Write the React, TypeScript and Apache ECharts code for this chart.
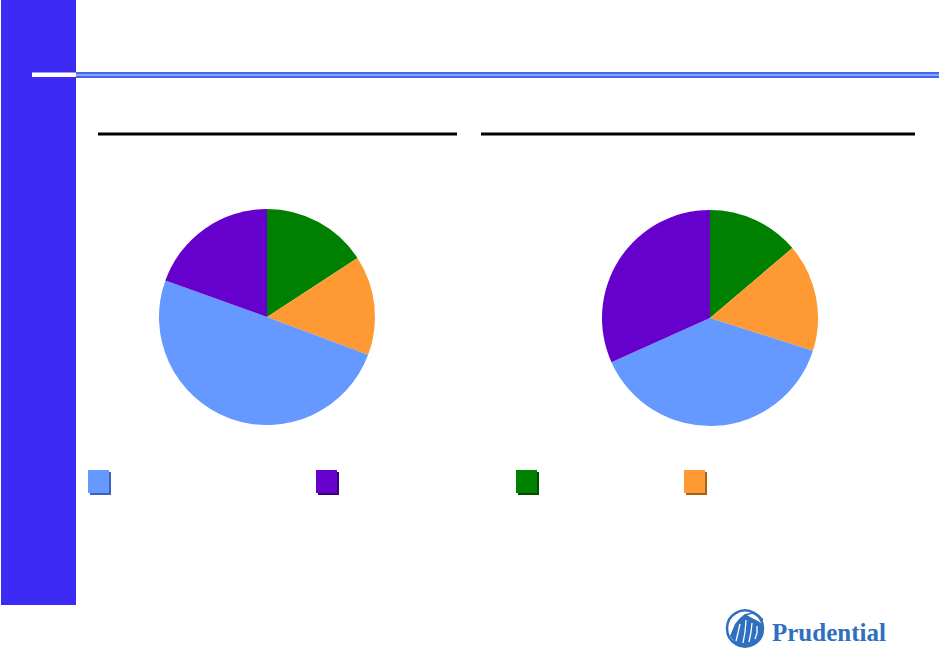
import React, { useEffect, useRef } from 'react';
import * as echarts from 'echarts';

// slice order, clockwise from 12 o'clock
const categories = ['Green', 'Orange', 'Light blue', 'Purple'];
const leftValues = [15.8, 14.9, 49.8, 19.5];
const rightValues = [13.8, 16.1, 38.4, 31.7];
// legend order as shown under the pies
const legendOrder = ['Light blue', 'Purple', 'Green', 'Orange'];
const legendLeft = [88, 316, 516, 684];

const colors: Record<string, string> = {
  Green: '#008000',
  Orange: '#ff9933',
  'Light blue': '#6699ff',
  Purple: '#6600cc',
};
const shadows: Record<string, string> = {
  Green: '#004d00',
  Orange: '#a8601e',
  'Light blue': '#3a62b8',
  Purple: '#3a0078',
};

const BRAND = '#2f6fc0';

const App = () => {
  const chartRef = useRef<HTMLDivElement>(null);

  useEffect(() => {
    let chart: echarts.ECharts | null = null;
    if (chartRef.current) {
      chart = echarts.init(chartRef.current, null, { renderer: 'svg' });

      const pie = (center: number[], values: number[]) => ({
        type: 'pie',
        center,
        radius: 108,
        startAngle: 90,
        clockwise: true,
        silent: true,
        label: { show: false },
        labelLine: { show: false },
        itemStyle: { borderWidth: 0 },
        data: categories.map((c, i) => ({
          name: c,
          value: values[i],
          itemStyle: { color: colors[c] },
        })),
      });

      const streak = (pts: number[][]) => ({
        type: 'polyline',
        shape: { points: pts },
        style: { stroke: '#ffffff', lineWidth: 1.3, fill: null },
      });

      const option: any = {
        animation: false,
        backgroundColor: '#ffffff',
        legend: legendOrder.map((name, i) => ({
          left: legendLeft[i],
          top: 470,
          padding: 0,
          itemWidth: 21,
          itemHeight: 23,
          icon: 'rect',
          selectedMode: false,
          formatter: () => '',
          data: [
            {
              name,
              itemStyle: {
                color: colors[name],
                shadowColor: shadows[name],
                shadowOffsetX: 2,
                shadowOffsetY: 2,
                shadowBlur: 0,
              },
            },
          ],
        })),
        graphic: [
          // side bar
          { type: 'rect', shape: { x: 1, y: 0, width: 75, height: 605 }, style: { fill: '#3d2af5' } },
          // header rule
          { type: 'rect', shape: { x: 76, y: 72, width: 863, height: 6 }, style: { fill: '#4466ee' } },
          { type: 'rect', shape: { x: 76, y: 74, width: 863, height: 2 }, style: { fill: '#86a6ff' } },
          { type: 'rect', shape: { x: 32, y: 72.5, width: 44, height: 4.5 }, style: { fill: '#ffffff' } },
          // column rules
          { type: 'rect', shape: { x: 98, y: 132.5, width: 359, height: 3 }, style: { fill: '#000000' } },
          { type: 'rect', shape: { x: 481, y: 132.5, width: 434, height: 3 }, style: { fill: '#000000' } },
          // logo
          { type: 'circle', shape: { cx: 745, cy: 628.5, r: 18 }, style: { fill: '#ffffff', stroke: BRAND, lineWidth: 2.5 } },
          {
            type: 'polygon',
            shape: {
              points: [[730, 636], [735, 624], [740, 618], [745, 614], [752, 618], [758, 621], [763, 625], [762, 636], [754, 644], [745, 647], [736, 644]],
            },
            style: { fill: BRAND },
          },
          {
            type: 'polyline',
            shape: { points: [[745, 615], [752, 613], [758, 615], [763, 620]] },
            style: { stroke: BRAND, lineWidth: 1.5, fill: null },
          },
          streak([[740, 624], [738, 633], [736, 641]]),
          streak([[746, 620], [745, 632], [743, 643]]),
          streak([[752, 623], [751, 632], [749, 642]]),
          streak([[757, 626], [757, 633], [755, 639]]),
          {
            type: 'text',
            x: 772,
            y: 632,
            style: {
              text: 'Prudential',
              font: 'bold 25px "Liberation Serif", serif',
              fill: BRAND,
              verticalAlign: 'middle',
            },
          },
        ],
        series: [pie([267, 317], leftValues), pie([710, 318], rightValues)],
      };
      chart.setOption(option);
    }

    const handleResize = () => chart?.resize();
    window.addEventListener('resize', handleResize);
    return () => {
      chart?.dispose();
      window.removeEventListener('resize', handleResize);
    };
  }, []);

  return (
    <div
      ref={chartRef}
      style={{ position: 'fixed', left: 0, top: 0, width: '939px', height: '648px' }}
    />
  );
};

export default App;
